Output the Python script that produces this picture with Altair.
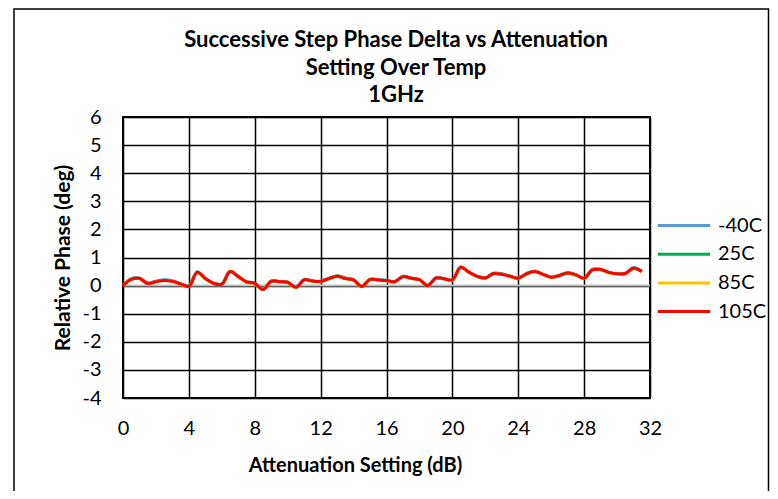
import altair as alt
import pandas as pd

# Attenuation settings (dB)
atten = [0.0, 0.5, 1.0, 1.5, 2.0, 2.5, 3.0, 3.5, 4.0, 4.5, 5.0, 5.5, 6.0, 6.5, 7.0, 7.5,
         8.0, 8.5, 9.0, 9.5, 10.0, 10.5, 11.0, 11.5, 12.0, 12.5, 13.0, 13.5, 14.0, 14.5, 15.0, 15.5,
         16.0, 16.5, 17.0, 17.5, 18.0, 18.5, 19.0, 19.5, 20.0, 20.5, 21.0, 21.5, 22.0, 22.5, 23.0, 23.5,
         24.0, 24.5, 25.0, 25.5, 26.0, 26.5, 27.0, 27.5, 28.0, 28.5, 29.0, 29.5, 30.0, 30.5, 31.0, 31.5]

phase_m40 = [0.00, 0.25, 0.27, 0.09, 0.15, 0.21, 0.17, 0.07, -0.01, 0.49, 0.26, 0.09, 0.06, 0.51, 0.33, 0.14,
             0.09, -0.12, 0.17, 0.15, 0.13, -0.05, 0.22, 0.17, 0.16, 0.26, 0.35, 0.27, 0.21, -0.02, 0.23, 0.21,
             0.19, 0.15, 0.33, 0.27, 0.22, 0.01, 0.28, 0.25, 0.21, 0.66, 0.49, 0.34, 0.28, 0.44, 0.42, 0.34,
             0.27, 0.43, 0.52, 0.41, 0.31, 0.37, 0.47, 0.39, 0.27, 0.58, 0.58, 0.48, 0.43, 0.44, 0.64, 0.52]

phase_25 = [0.00, 0.23, 0.26, 0.08, 0.15, 0.19, 0.16, 0.06, -0.02, 0.48, 0.25, 0.08, 0.05, 0.51, 0.32, 0.13,
            0.08, -0.13, 0.16, 0.14, 0.12, -0.06, 0.21, 0.16, 0.15, 0.25, 0.34, 0.26, 0.20, -0.03, 0.22, 0.20,
            0.18, 0.14, 0.33, 0.26, 0.21, 0.00, 0.27, 0.24, 0.20, 0.66, 0.48, 0.33, 0.27, 0.43, 0.41, 0.33,
            0.26, 0.42, 0.51, 0.40, 0.30, 0.36, 0.46, 0.38, 0.26, 0.57, 0.58, 0.47, 0.42, 0.43, 0.63, 0.51]

phase_85 = [0.00, 0.22, 0.25, 0.08, 0.14, 0.18, 0.15, 0.05, -0.03, 0.47, 0.24, 0.07, 0.05, 0.50, 0.31, 0.12,
            0.07, -0.14, 0.15, 0.13, 0.11, -0.07, 0.20, 0.15, 0.14, 0.24, 0.33, 0.25, 0.19, -0.04, 0.21, 0.19,
            0.17, 0.13, 0.32, 0.25, 0.20, -0.01, 0.26, 0.23, 0.19, 0.64, 0.47, 0.32, 0.26, 0.42, 0.40, 0.32,
            0.25, 0.41, 0.50, 0.39, 0.29, 0.35, 0.45, 0.37, 0.25, 0.56, 0.56, 0.46, 0.41, 0.42, 0.61, 0.49]

phase_105 = [0.00, 0.22, 0.25, 0.08, 0.14, 0.18, 0.15, 0.06, -0.03, 0.47, 0.25, 0.08, 0.05, 0.50, 0.32, 0.13,
             0.08, -0.14, 0.15, 0.14, 0.12, -0.06, 0.21, 0.16, 0.15, 0.25, 0.33, 0.25, 0.20, -0.03, 0.22, 0.20,
             0.18, 0.14, 0.32, 0.26, 0.21, 0.00, 0.27, 0.24, 0.20, 0.65, 0.48, 0.33, 0.27, 0.43, 0.40, 0.33,
             0.26, 0.42, 0.50, 0.40, 0.30, 0.36, 0.45, 0.38, 0.26, 0.56, 0.57, 0.47, 0.42, 0.43, 0.62, 0.50]

series_names = ["-40C", "25C", "85C", "105C"]
series_values = [phase_m40, phase_25, phase_85, phase_105]
series_colors = ["#5B9BD5", "#00B050", "#FFC000", "#FF0000"]

x_ticks = [0, 4, 8, 12, 16, 20, 24, 28, 32]
y_ticks = [-4, -3, -2, -1, 0, 1, 2, 3, 4, 5, 6]

title_lines = ["Successive Step Phase Delta vs Attenuation", "Setting Over Temp", "1GHz"]

rows = []
for k, (name, vals) in enumerate(zip(series_names, series_values)):
    for a, v in zip(atten, vals):
        rows.append({"atten": a, "phase": v, "series": name, "k": k})
df = pd.DataFrame(rows)

FONT = "Lato"
LABEL_EXPR = "datum.value < 0 ? '-' + abs(datum.value) : '' + datum.value"

x_scale = alt.Scale(domain=[0, 32], nice=False, zero=False)
y_scale = alt.Scale(domain=[-4, 6], nice=False, zero=False)

x_axis = alt.Axis(
    values=x_ticks, title="Attenuation Setting (dB)", grid=True,
    gridColor="black", gridWidth=1.5, gridOpacity=1, domain=False, ticks=False,
    labelFontSize=20, labelColor="black", labelPadding=20, labelFont=FONT,
    labelFlush=False, labelOverlap=False, labelExpr=LABEL_EXPR,
    titleFontSize=20, titleFontWeight="bold", titleColor="black", titleFont=FONT,
    titlePadding=17, titleX=232,
)
y_axis = alt.Axis(
    values=y_ticks, title="Relative Phase (deg)", grid=True,
    gridColor="black", gridWidth=1.5, gridOpacity=1, domain=False, ticks=False,
    labelFontSize=20, labelColor="black", labelPadding=22, labelFont=FONT,
    labelFlush=False, labelOverlap=False, labelExpr=LABEL_EXPR,
    titleFontSize=21, titleFontWeight="bold", titleColor="black", titleFont=FONT,
    titlePadding=8,
)

lines = alt.Chart(df).mark_line(strokeWidth=3, interpolate="catmull-rom").encode(
    x=alt.X("atten:Q", scale=x_scale, axis=x_axis),
    y=alt.Y("phase:Q", scale=y_scale, axis=y_axis),
    color=alt.Color(
        "series:N",
        scale=alt.Scale(domain=series_names, range=series_colors),
        sort=series_names,
        legend=alt.Legend(
            title=None, orient="none", legendX=533, legendY=95,
            symbolType="stroke", symbolStrokeWidth=3, symbolSize=2750,
            labelFontSize=20, labelFont=FONT, labelColor="black", labelOffset=6,
            clipHeight=27, rowPadding=1.7, padding=0,
        ),
    ),
    detail="k:O",
)

zero_rule = alt.Chart(pd.DataFrame({"phase": [0]})).mark_rule(color="#BFBFBF", strokeWidth=2).encode(
    y=alt.Y("phase:Q", scale=y_scale, axis=y_axis)
)

border = alt.Chart(pd.DataFrame({"b": [0]})).mark_rect(
    fillOpacity=0, stroke="black", strokeWidth=1.5
).encode(
    x=alt.value(-109), x2=alt.value(645.5), y=alt.value(-108), y2=alt.value(400)
)

title_layers = []
for line, yy in zip(title_lines, [-77, -49.5, -22]):
    title_layers.append(
        alt.Chart(pd.DataFrame({"t": [line]})).mark_text(
            font=FONT, fontSize=22, fontWeight="bold", color="black",
            align="center", baseline="middle",
        ).encode(text="t:N", x=alt.value(273), y=alt.value(yy))
    )

chart = alt.layer(border, zero_rule, lines, *title_layers).properties(
    width=527,
    height=281,
    autosize=alt.AutoSizeParams(type="none"),
    padding={"left": 115, "top": 109, "right": 120, "bottom": 93},
).configure(
    font=FONT, background="white"
).configure_view(
    stroke="black", strokeWidth=2
)

chart.save("out.html", embed_options={"renderer": "svg", "actions": False})
